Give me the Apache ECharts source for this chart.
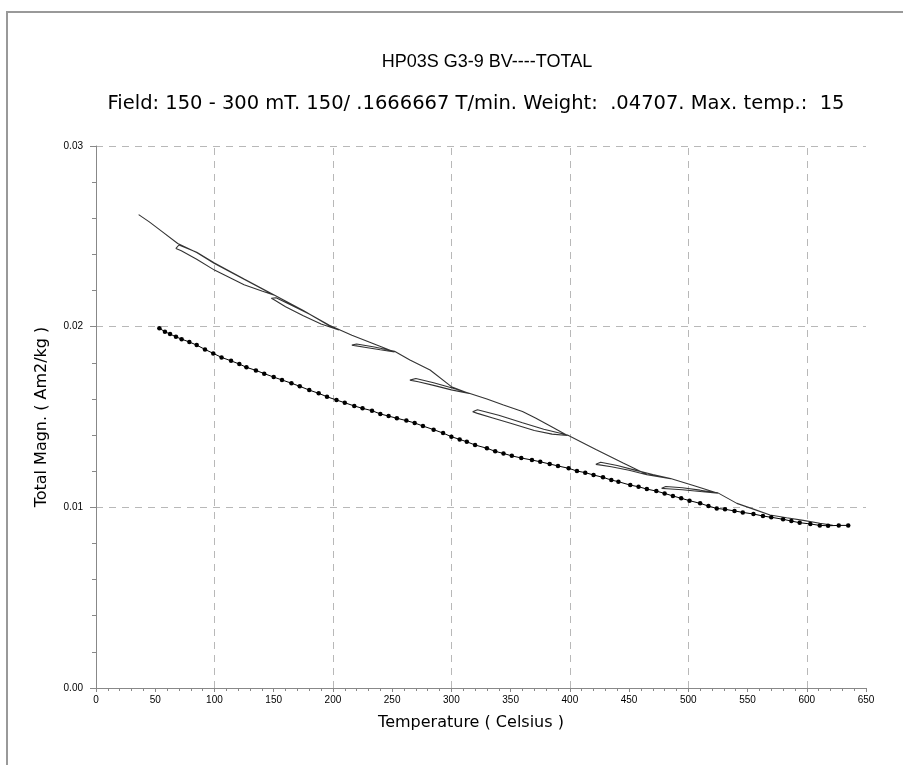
<!DOCTYPE html>
<html>
<head>
<meta charset="utf-8">
<script src="https://cdn.jsdelivr.net/npm/echarts@6/dist/echarts.min.js"></script>
<style>html,body{margin:0;padding:0;background:#fff}#c{width:903px;height:765px}</style>
</head>
<body>
<div id="c"></div>
<script>
// Heating curve with dots (Temperature °C, Total magnetization Am2/kg)
const dotT = [53.5,58.2,62.5,67.5,72.3,78.8,85,92,99,106,114,121,127,135,142,150,157,165,172,180,188,195,203,210,218,225,233,240,247,254,262,269,276,285,293,300,307,313,320,330,337,344,351,359,368,375,383,390,399,406,413,420,428,435,441,451,458,465,473,480,487,494,501,510,517,524,531,539,546,555,563,570,580,587,594,603,611,618,627,635];
const dotM = [0.01991,0.01972,0.01959,0.01944,0.01931,0.01915,0.01898,0.01874,0.01852,0.0183,0.01811,0.01793,0.01775,0.01758,0.0174,0.01721,0.01705,0.01687,0.0167,0.01649,0.01631,0.01612,0.01594,0.01579,0.01561,0.01548,0.01535,0.01517,0.01505,0.01493,0.0148,0.01467,0.0145,0.0143,0.01411,0.01391,0.01376,0.01363,0.01345,0.01327,0.0131,0.01298,0.01285,0.01273,0.01262,0.01252,0.0124,0.01229,0.01216,0.01201,0.01192,0.01179,0.01166,0.01151,0.01142,0.01123,0.01114,0.01101,0.0109,0.01077,0.01063,0.0105,0.01037,0.01022,0.01007,0.00994,0.00989,0.0098,0.00972,0.00963,0.00952,0.00945,0.00934,0.00924,0.00915,0.00908,0.009,0.00898,0.009,0.009];

// Thin line: stepwise heating / cooling cycles (read along the path)
const loopT = [36,45,55,69,85,100,125,150,
  140,125,100,85,72,67.5,
  70,85,100,125,150,175,197,205,
  190,175,160,150,148,
  152,165,180,197,216,230,252,
  240,228,216,
  220,235,252,265,282,300,315,
  300,285,272,265,
  270,285,300,315,330,344,360,371,385,398,
  385,370,350,335,322,318,
  322,340,360,378,398,422,445,465,477,485,
  465,450,435,425,422,
  426,440,455,470,485,505,525,
  510,495,482,477.5,
  481,495,510,525,541,555,569,583,597,611,622];
const loopM = [0.02620,0.02580,0.02530,0.02460,0.02410,0.02350,0.02262,0.02175,
  0.02197,0.02232,0.02313,0.02373,0.02420,0.02433,
  0.02452,0.02412,0.02352,0.02264,0.02177,0.02090,0.02005,0.01982,
  0.02015,0.02060,0.02110,0.02150,0.02157,
  0.02160,0.02118,0.02070,0.02008,0.01952,0.01917,0.01860,
  0.01872,0.01885,0.01898,
  0.01904,0.01887,0.01864,0.01815,0.01760,0.01668,0.01630,
  0.01650,0.01675,0.01695,0.01704,
  0.01713,0.01690,0.01662,0.01632,0.01600,0.01566,0.01530,0.01495,0.01445,0.01398,
  0.01405,0.01425,0.01465,0.01495,0.01520,0.01529,
  0.01540,0.01510,0.01468,0.01432,0.01400,0.01320,0.01245,0.01182,0.01170,0.01158,
  0.01180,0.01205,0.01225,0.01235,0.01238,
  0.01250,0.01232,0.01206,0.01182,0.01160,0.01120,0.01078,
  0.01088,0.01097,0.01103,0.01105,
  0.01115,0.01108,0.01095,0.01080,0.01022,0.00990,0.00958,0.00942,0.00928,0.00912,0.00900];

// Vertical dashed grid positions (°C)
const gridT = [100, 200, 300, 400, 500, 600];

const titleText = 'HP03S G3-9 BV----TOTAL';
const subText = 'Field: 150 - 300 mT. 150/ .1666667 T/min. Weight:  .04707. Max. temp.:  15';
const xName = 'Temperature ( Celsius )';
const yName = 'Total Magn. ( Am2/kg )';

const zip = (a, b) => a.map((v, i) => [v, b[i]]);
const FONT = "'Liberation Sans',Arial,sans-serif";
const WIDE = "'DejaVu Sans',sans-serif";
const dash = {color: '#b8b8b8', type: [7, 6], width: 1};

const chart = echarts.init(document.getElementById('c'), null, {renderer: 'canvas'});
chart.setOption({
  animation: false,
  backgroundColor: '#fff',
  graphic: [
    {type: 'rect', shape: {x: 7, y: 12, width: 1000, height: 1000}, style: {fill: 'none', stroke: '#999', lineWidth: 2}, silent: true, z: 0},
    {type: 'text', x: 487, y: 62, style: {text: titleText, font: '18px ' + FONT, fill: '#000', textAlign: 'center', textVerticalAlign: 'middle'}},
    {type: 'text', x: 476, y: 104, style: {text: subText, font: '19.5px ' + WIDE, fill: '#000', textAlign: 'center', textVerticalAlign: 'middle'}}
  ],
  grid: {left: 96, right: 37, top: 146, bottom: 77, containLabel: false},
  xAxis: {
    type: 'value', min: 0, max: 650, interval: 50,
    name: xName, nameLocation: 'middle', nameGap: 27,
    nameTextStyle: {fontFamily: WIDE, fontSize: 16, color: '#000', padding: [0, 20, 0, 0]},
    axisLine: {lineStyle: {color: '#888', width: 1}},
    axisTick: {show: true, length: 4, lineStyle: {color: '#888'}},
    minorTick: {show: true, splitNumber: 5, length: 3, lineStyle: {color: '#888'}},
    axisLabel: {fontFamily: FONT, fontSize: 10, color: '#000', margin: 7},
    splitLine: {show: false}
  },
  yAxis: {
    type: 'value', min: 0, max: 0.03, interval: 0.01,
    name: yName, nameLocation: 'middle', nameGap: 46, nameRotate: 90,
    nameTextStyle: {fontFamily: WIDE, fontSize: 16, color: '#000'},
    axisLine: {show: true, lineStyle: {color: '#888', width: 1}},
    axisTick: {show: true, length: 6, lineStyle: {color: '#888'}},
    minorTick: {show: true, splitNumber: 5, length: 4, lineStyle: {color: '#888'}},
    axisLabel: {fontFamily: FONT, fontSize: 10, color: '#000', margin: 13, formatter: v => v.toFixed(2)},
    splitLine: {show: true, lineStyle: dash}
  },
  series: [
    {
      name: 'cycles', type: 'line', data: zip(loopT, loopM),
      showSymbol: false, symbol: 'none', smooth: false,
      lineStyle: {color: '#333', width: 1.1}, z: 3,
      markLine: {
        silent: true, symbol: 'none', label: {show: false},
        lineStyle: dash, z: 1,
        data: gridT.map(t => ({xAxis: t}))
      }
    },
    {
      name: 'heating', type: 'line', data: zip(dotT, dotM),
      symbol: 'circle', symbolSize: 4.5, showAllSymbol: true,
      itemStyle: {color: '#000'}, lineStyle: {color: '#000', width: 1}, z: 4
    }
  ]
});
</script>
</body>
</html>
